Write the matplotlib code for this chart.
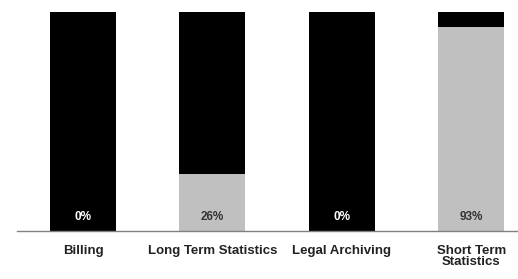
import matplotlib
matplotlib.use("Agg")
import matplotlib.pyplot as plt
from matplotlib import font_manager

categories = ["Billing", "Long Term Statistics", "Legal Archiving", "Short Term\nStatistics"]
gray_share = [0, 26, 0, 93]
black_share = [100 - v for v in gray_share]
value_labels = ["0%", "26%", "0%", "93%"]

names = {f.name for f in font_manager.fontManager.ttflist}
fam = ["Liberation Sans Narrow", "Liberation Sans", "DejaVu Sans"]
fam = [f for f in fam if f in names] or ["DejaVu Sans"]
plt.rcParams['font.family'] = fam

W, H = 518, 279
fig = plt.figure(figsize=(W / 100, H / 100), dpi=100)
ax = fig.add_axes([17 / W, 48 / H, 501 / W, 219 / H])

x = list(range(len(categories)))
ax.bar(x, gray_share, width=0.51, color="#c0c0c0", edgecolor="none")
ax.bar(x, black_share, bottom=gray_share, width=0.51, color="#000000", edgecolor="none")

for xi, g, lab in zip(x, gray_share, value_labels):
    col = "white" if g < 10 else "#333333"
    ax.text(xi, 6.3, lab, ha="center", va="center", fontsize=8.5, fontweight="bold", color=col)

ax.set_xlim(-0.51, 3.36)
ax.set_ylim(0, 100)
ax.set_xticks(x)
ax.set_xticklabels(categories, fontsize=9.5, fontweight="bold", linespacing=0.85, color="#222222")
ax.tick_params(axis="x", length=0, pad=10)
ax.set_yticks([])
for s in ["top", "right", "left"]:
    ax.spines[s].set_visible(False)
ax.spines["bottom"].set_color("#808080")
ax.spines["bottom"].set_linewidth(1)

fig.savefig("out.png", dpi=100)
